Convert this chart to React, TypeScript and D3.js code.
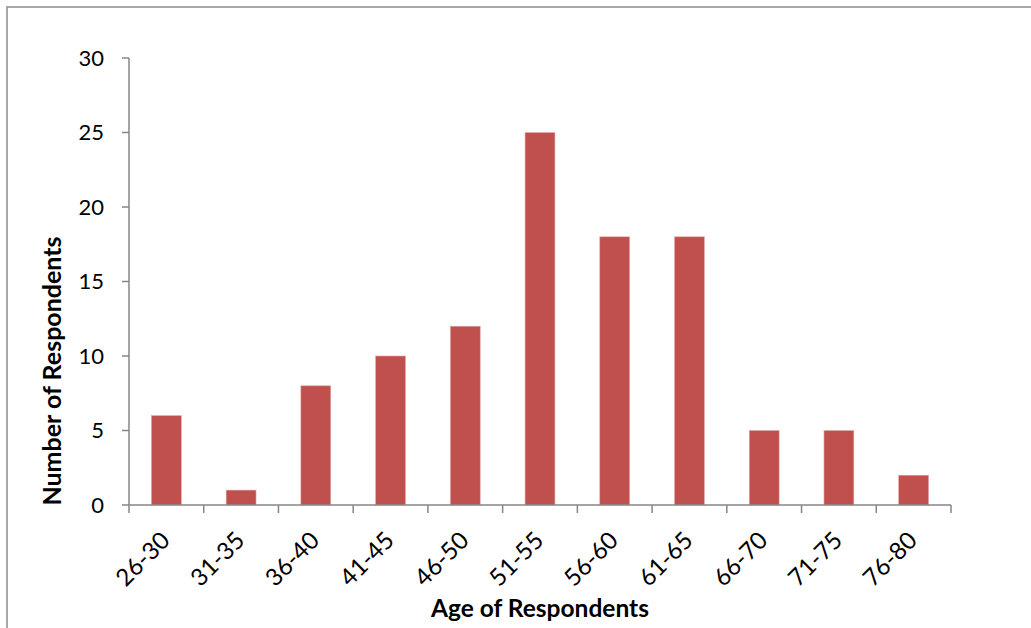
import React from "react";
import * as d3 from "d3";

const ageGroups = ["26-30", "31-35", "36-40", "41-45", "46-50", "51-55", "56-60", "61-65", "66-70", "71-75", "76-80"];
const respondents = [6, 1, 8, 10, 12, 25, 18, 18, 5, 5, 2];
const yTicks = [0, 5, 10, 15, 20, 25, 30];

const W = 1031;
const H = 628;
const left = 129;
const right = 951;
const top = 58;
const bottom = 505;
const FONT = "Lato, 'Open Sans', sans-serif";
const AXIS = "#868686";
const BAR = "#C0504D";

export default function App() {
  const x = d3.scaleBand<string>().domain(ageGroups).range([left, right]).paddingInner(0.6).paddingOuter(0.3);
  const band = d3.scaleBand<string>().domain(ageGroups).range([left, right]);
  const y = d3.scaleLinear().domain([0, 30]).range([bottom, top]);
  const boundaries = ageGroups.map((g) => band(g) as number).concat([right]);

  return (
    <svg width={W} height={H} style={{ position: "absolute", left: 0, top: 0, background: "#fff" }}>
      <rect x={7} y={7} width={W + 20} height={H + 20} fill="#fff" stroke="#8a8a8a" strokeWidth={1.5} />

      {ageGroups.map((g, i) => (
        <rect
          key={g}
          x={x(g)}
          y={y(respondents[i])}
          width={x.bandwidth()}
          height={y(0) - y(respondents[i])}
          fill={BAR}
          stroke="#e3a9a7"
          strokeWidth={0.6}
        />
      ))}

      {/* y axis */}
      <line x1={left} x2={left} y1={top} y2={bottom} stroke={AXIS} strokeWidth={1.5} />
      {yTicks.map((t) => (
        <g key={t}>
          <line x1={left - 7} x2={left} y1={y(t)} y2={y(t)} stroke={AXIS} strokeWidth={1.5} />
          <text x={104} y={y(t)} dy="0.35em" textAnchor="end" fontFamily={FONT} fontSize={22} fill="#000">
            {t}
          </text>
        </g>
      ))}

      {/* x axis */}
      <line x1={left} x2={right} y1={bottom} y2={bottom} stroke={AXIS} strokeWidth={1.5} />
      {boundaries.map((b, i) => (
        <line key={i} x1={b} x2={b} y1={bottom} y2={bottom + 8} stroke={AXIS} strokeWidth={1.5} />
      ))}
      {ageGroups.map((g) => {
        const cx = (band(g) as number) + band.bandwidth() / 2;
        const ax = cx + 5;
        const ay = bottom + 37;
        return (
          <text
            key={g}
            x={ax}
            y={ay}
            textAnchor="end"
            transform={`rotate(-45 ${ax} ${ay})`}
            fontFamily={FONT}
            fontSize={24}
            fill="#000"
          >
            {g}
          </text>
        );
      })}

      <text x={(left + right) / 2} y={617} textAnchor="middle" fontFamily={FONT} fontSize={24.5} fontWeight="bold" fill="#000">
        Age of Respondents
      </text>
      <text
        x={0}
        y={0}
        transform={`translate(61 371) rotate(-90)`}
        textAnchor="middle"
        fontFamily={FONT}
        fontSize={25}
        fontWeight="bold"
        fill="#000"
      >
        Number of Respondents
      </text>
    </svg>
  );
}
